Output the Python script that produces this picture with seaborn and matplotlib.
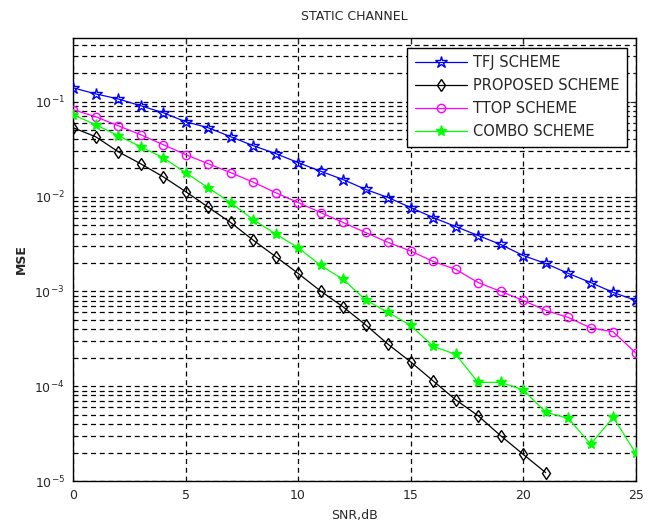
import seaborn as sns
import matplotlib.pyplot as plt
import numpy as np
import pandas as pd
from matplotlib.ticker import LogLocator, NullFormatter, MultipleLocator

snr = list(range(26))

tfj = [0.140, 0.121, 0.107, 0.0908, 0.0766, 0.0616, 0.0532, 0.0428, 0.0344, 0.0284,
       0.0228, 0.0185, 0.0151, 0.0119, 0.00976, 0.00766, 0.00601, 0.00483, 0.00388,
       0.00313, 0.00239, 0.00197, 0.00155, 0.00124, 0.000976, 0.000804]

proposed = [0.0532, 0.0428, 0.0298, 0.0222, 0.0162, 0.0113, 0.00775, 0.00533, 0.00348,
            0.00233, 0.00155, 0.00101, 0.000687, 0.000444, 0.000277, 0.000181, 0.000114,
            0.0000721, 0.0000489, 0.0000301, 0.0000192, 0.0000123]

ttop = [0.0824, 0.0695, 0.0559, 0.0449, 0.0353, 0.0277, 0.0222, 0.0179, 0.0142, 0.0110,
        0.00865, 0.00679, 0.00533, 0.00418, 0.00328, 0.00267, 0.00207, 0.00171, 0.00124,
        0.00100, 0.000804, 0.000631, 0.000532, 0.000413, 0.000375, 0.000225]

combo = [0.0730, 0.0573, 0.0439, 0.0336, 0.0257, 0.0179, 0.0124, 0.00865, 0.00573,
         0.00403, 0.00290, 0.00188, 0.00134, 0.000814, 0.000601, 0.000439, 0.000264,
         0.000217, 0.000110, 0.000110, 0.0000918, 0.0000533, 0.0000461, 0.0000245,
         0.0000472, 0.0000197]

sns.set_style("white")
plt.rcParams['font.family'] = ['DejaVu Sans']

fig = plt.figure(figsize=(6.52, 5.27), dpi=100)
ax = fig.add_axes([0.112, 0.087, 0.863, 0.841])

series = [
    ('TFJ SCHEME', tfj, '#0000ff', '*', 'none', 9),
    ('PROPOSED SCHEME', proposed, '#000000', 'd', 'none', 6),
    ('TTOP SCHEME', ttop, '#ff00ff', 'o', 'none', 6),
    ('COMBO SCHEME', combo, '#00ff00', '*', '#00ff00', 8),
]

for name, vals, color, mk, face, ms in series:
    sns.lineplot(x=snr[:len(vals)], y=vals, ax=ax, color=color, marker=mk,
                 markerfacecolor=face, markeredgecolor=color, markersize=ms,
                 markeredgewidth=1.0, linewidth=0.9, label=name, zorder=3)

ax.set_yscale('log')
ax.set_xlim(0, 25)
ax.set_ylim(1e-5, 0.47)
ax.xaxis.set_major_locator(MultipleLocator(5))
ax.yaxis.set_major_locator(LogLocator(base=10, numticks=10))
ax.yaxis.set_minor_locator(LogLocator(base=10, subs=np.arange(2, 10), numticks=20))
ax.yaxis.set_minor_formatter(NullFormatter())

ax.grid(True, which='major', axis='both', linestyle=(0, (4, 3)), color='black', linewidth=0.9)
ax.grid(True, which='minor', axis='y', linestyle=(0, (4, 3)), color='black', linewidth=0.9)
ax.set_axisbelow(True)

ax.tick_params(which='both', direction='in', top=True, right=True, labelsize=9)
ax.tick_params(which='major', length=4, pad=6)
ax.tick_params(which='minor', length=2)
for s in ax.spines.values():
    s.set_color('black')
    s.set_linewidth(1.0)

ax.set_title('STATIC CHANNEL', fontsize=9, pad=13)
ax.set_xlabel('SNR,dB', fontsize=9, labelpad=5)
ax.set_ylabel('MSE', fontsize=9, fontweight='bold', labelpad=5)

leg = ax.legend(loc='upper right', bbox_to_anchor=(0.984, 0.977), borderaxespad=0,
                fontsize=10.5, frameon=True, fancybox=False, edgecolor='black',
                framealpha=1, handlelength=3.6, labelspacing=0.55, borderpad=0.5,
                handletextpad=0.4)
leg.get_frame().set_linewidth(1.0)

plt.savefig('out.png', dpi=100)
